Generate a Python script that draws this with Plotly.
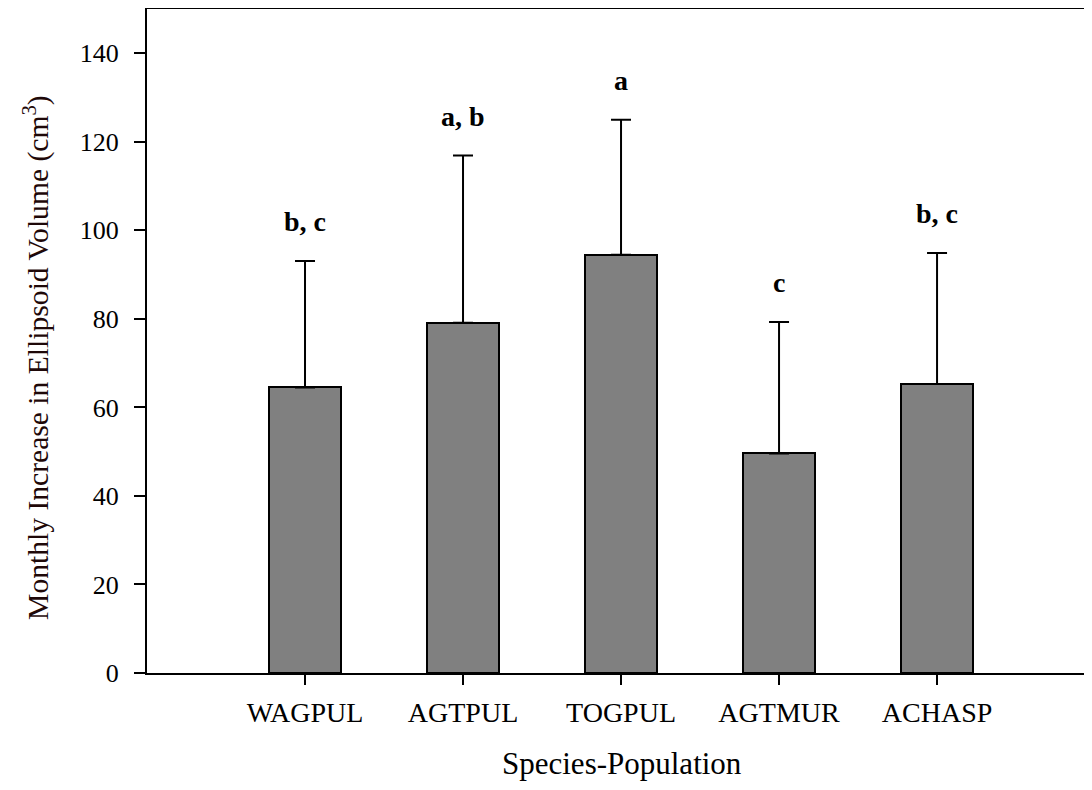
import plotly.graph_objects as go

categories = ["WAGPUL", "AGTPUL", "TOGPUL", "AGTMUR", "ACHASP"]
means = [64.5, 79.1, 94.5, 49.6, 65.3]
errors_up = [28.6, 37.8, 30.5, 29.7, 29.6]
letters = ["b, c", "a, b", "a", "c", "b, c"]
y_ticks = [0, 20, 40, 60, 80, 100, 120, 140]
x_title = "Species-Population"
y_title = "Monthly Increase in Ellipsoid Volume (cm<sup>3</sup>)"

FONT = "Liberation Serif, Times New Roman, serif"

fig = go.Figure()
fig.add_trace(go.Bar(
    x=categories, y=means, width=0.46,
    marker=dict(color="#808080", line=dict(color="#000000", width=2)),
    error_y=dict(type="data", symmetric=False, array=errors_up,
                 arrayminus=[0] * len(means), color="#000000",
                 thickness=2, width=10),
    showlegend=False,
))

for c, m, e, t in zip(categories, means, errors_up, letters):
    fig.add_annotation(x=c, y=m + e, text="<b>" + t + "</b>", showarrow=False,
                       yanchor="bottom", yshift=22,
                       font=dict(family=FONT, size=28, color="#000000"))

# axis titles as annotations for precise placement
fig.add_annotation(xref="paper", yref="paper", x=0.507, y=-0.1642,
                   xanchor="center", yanchor="bottom", showarrow=False,
                   borderpad=0, text=x_title,
                   font=dict(family=FONT, size=31, color="#000000"))
fig.add_annotation(xref="paper", yref="paper", x=-0.1174, y=0.476,
                   xanchor="center", yanchor="middle", showarrow=False,
                   textangle=-90, text=y_title,
                   font=dict(family=FONT, size=29.6, color="#1e0808"))

fig.update_layout(
    width=1076, height=774,
    margin=dict(l=139, r=0, t=1, b=109),
    paper_bgcolor="white", plot_bgcolor="white",
    font=dict(family=FONT, color="#000000"),
    bargap=0,
)
fig.update_xaxes(
    range=[-1, 4.93], showline=True, linecolor="#000000", linewidth=2,
    mirror=True, ticks="outside", ticklen=10, tickwidth=2, tickcolor="#000000",
    tickfont=dict(family=FONT, size=28, color="#000000"),
    ticklabelstandoff=3,
    showgrid=False, zeroline=False,
)
fig.update_yaxes(
    range=[0, 150], tickvals=y_ticks, showline=True, linecolor="#000000",
    linewidth=2, ticks="outside", ticklen=11, tickwidth=2, tickcolor="#000000",
    tickfont=dict(family=FONT, size=26, color="#000000"),
    ticklabelstandoff=10,
    showgrid=False, zeroline=False,
)

fig.write_html("out.html")
